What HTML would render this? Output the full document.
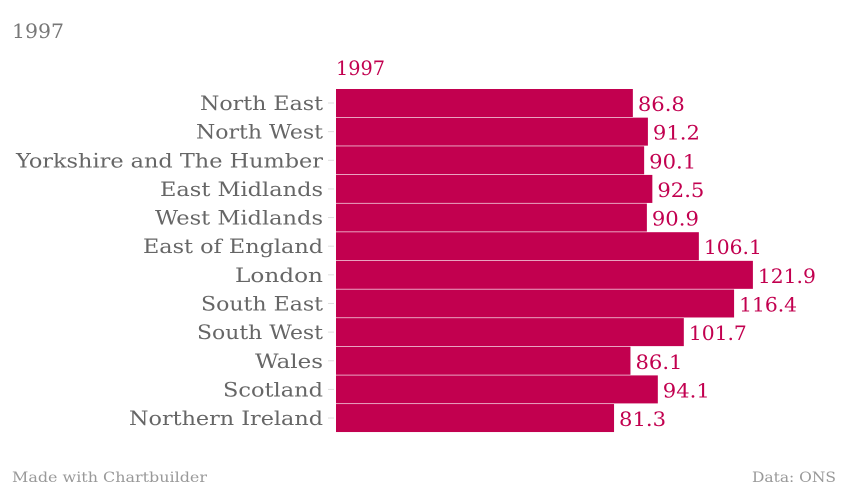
<!DOCTYPE html>
<html><head><meta charset="utf-8"><style>
body{margin:0;background:#fff;width:850px;height:489px;overflow:hidden}
text{font-family:"DejaVu Serif","Liberation Serif",serif}
</style></head><body>
<svg width="850" height="489" xmlns="http://www.w3.org/2000/svg">
<text x="12" y="38" font-size="20" fill="#777" textLength="52" lengthAdjust="spacingAndGlyphs">1997</text>
<text x="336" y="75" font-size="20" fill="#c2004f" textLength="49" lengthAdjust="spacingAndGlyphs">1997</text>
<g id="bars" font-size="20"></g>
<text x="12" y="482" font-size="14" fill="#999" textLength="195" lengthAdjust="spacingAndGlyphs">Made with Chartbuilder</text>
<text x="752" y="482" font-size="14" fill="#999" textLength="84" lengthAdjust="spacingAndGlyphs">Data: ONS</text>
</svg>
<script>
const d=[["North East",86.8,123],["North West",91.2,127],["Yorkshire and The Humber",90.1,307],["East Midlands",92.5,163],["West Midlands",90.9,168],["East of England",106.1,180],["London",121.9,88],["South East",116.4,122],["South West",101.7,126],["Wales",86.1,68],["Scotland",94.1,100],["Northern Ireland",81.3,194]];
let s="";const k=3.42;
d.forEach((r,i)=>{const t=89+i*28.64,c=t+14,w=r[1]*k;
const v=r[1].toFixed(1),vw=v.length==4?47:58;
s+=`<line x1="328" x2="334" y1="${c}" y2="${c}" stroke="#ddd"/>`;
s+=`<rect x="336" y="${t}" width="${w}" height="28" fill="#c2004f"/>`;
s+=`<text x="${323-r[2]}" y="${c+7}" fill="#666" textLength="${r[2]}" lengthAdjust="spacingAndGlyphs">${r[0]}</text>`;
s+=`<text x="${336+w+5}" y="${c+8}" fill="#c2004f" textLength="${vw}" lengthAdjust="spacingAndGlyphs">${v}</text>`;});
document.getElementById("bars").innerHTML=s;
</script>
</body></html>
